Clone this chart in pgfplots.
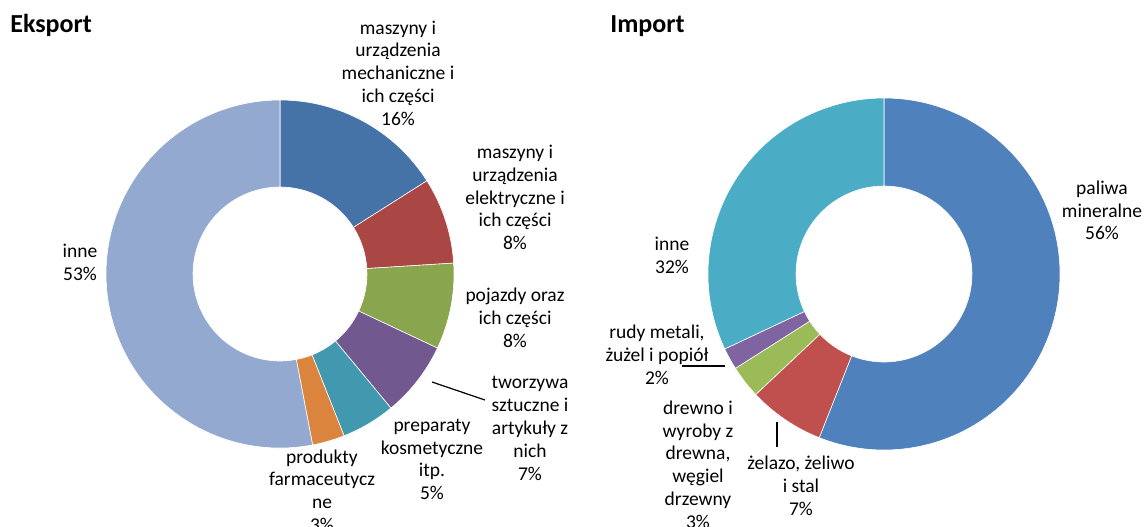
\documentclass[border=0pt]{standalone}
\usepackage{pgfplots}
\usepackage{pgfplotstable}
\pgfplotsset{compat=1.18}
\usepackage{fontspec}
\setmainfont{Carlito}

\definecolor{ekA}{HTML}{4572A7}
\definecolor{ekB}{HTML}{AA4643}
\definecolor{ekC}{HTML}{89A54E}
\definecolor{ekD}{HTML}{71588F}
\definecolor{ekE}{HTML}{4198AF}
\definecolor{ekF}{HTML}{DB843D}
\definecolor{ekG}{HTML}{93A9CF}
\definecolor{imA}{HTML}{4F81BD}
\definecolor{imB}{HTML}{C0504D}
\definecolor{imC}{HTML}{9BBB59}
\definecolor{imD}{HTML}{8064A2}
\definecolor{imE}{HTML}{4BACC6}

% shares in %, clockwise from 12 o'clock
\pgfplotstableread{
val col
16 ekA
8  ekB
8  ekC
7  ekD
5  ekE
3  ekF
53 ekG
}\eksport
\pgfplotstableread{
val col
56 imA
7  imB
3  imC
2  imD
32 imE
}\import

% #1 table, #2 cx, #3 cy (axis units), #4 outer radius, #5 inner radius
\newcommand\donut[5]{%
  \pgfplotstablegetrowsof{#1}%
  \pgfmathtruncatemacro\nrows{\pgfplotsretval-1}%
  \def\cum{0}%
  \pgfplotsforeachungrouped \i in {0,...,\nrows}{%
    \pgfplotstablegetelem{\i}{val}\of#1\let\segval\pgfplotsretval
    \pgfplotstablegetelem{\i}{col}\of#1\let\segcol\pgfplotsretval
    \pgfmathsetmacro\angA{90-3.6*\cum}%
    \pgfmathsetmacro\angB{90-3.6*(\cum+\segval)}%
    \pgfmathsetmacro\angC{\angB+180}%
    \pgfmathsetmacro\cum{\cum+\segval}%
    \edef\temp{\noexpand\fill[\segcol, draw=white, line width=0.3pt]
      (axis cs:#2,#3) ++(\angA:#4) arc[start angle=\angA, end angle=\angB, radius=#4]
      -- ++(\angC:#4-#5) arc[start angle=\angB, end angle=\angA, radius=#5] -- cycle;}%
    \temp
  }%
}

\tikzset{lbl/.style={font=\fontsize{9.75}{11.4}\selectfont, align=center, inner sep=0pt},
         ttl/.style={font=\fontsize{13}{15}\selectfont\bfseries, anchor=base west, inner sep=0pt}}

\begin{document}
\begin{tikzpicture}
\begin{axis}[
  name=ax,
  width=572.5pt, height=263pt, scale only axis,
  xmin=0, xmax=1145, ymin=0, ymax=526, y dir=reverse,
  hide axis, clip=false,
]
\donut{\eksport}{280}{274}{87pt}{43.5pt}
\donut{\import}{884}{274}{88pt}{44pt}

\node[ttl] at (axis cs:10,32) {Eksport};
\node[ttl] at (axis cs:610,32) {Import};

% Eksport labels
\node[lbl] at (axis cs:398,73) {maszyny i\\urządzenia\\mechaniczne i\\ich części\\16\%};
\node[lbl] at (axis cs:515,197.5) {maszyny i\\urządzenia\\elektryczne i\\ich części\\8\%};
\node[lbl] at (axis cs:515,318) {pojazdy oraz\\ich części\\8\%};
\node[lbl] at (axis cs:530,428.5) {tworzywa\\sztuczne i\\artykuły z\\nich\\7\%};
\node[lbl] at (axis cs:432,459.5) {preparaty\\kosmetyczne\\itp.\\5\%};
\node[lbl] at (axis cs:322,490.5) {produkty\\farmaceutycz\\ne\\3\%};
\node[lbl] at (axis cs:80,262) {inne\\53\%};
\draw[black, line width=0.6pt] (axis cs:432,382) -- (axis cs:485,400);

% Import labels
\node[lbl] at (axis cs:1102,210.5) {paliwa\\mineralne\\56\%};
\node[lbl] at (axis cs:672,255.5) {inne\\32\%};
\node[lbl] at (axis cs:657,354.5) {rudy metali,\\żużel i popiół\\2\%};
\node[lbl] at (axis cs:698,464.5) {drewno i\\wyroby z\\drewna,\\węgiel\\drzewny\\3\%};
\node[lbl] at (axis cs:801,485.5) {żelazo, żeliwo\\i stal\\7\%};
\draw[black, line width=0.6pt] (axis cs:682,366) -- (axis cs:725,366);
\draw[black, line width=0.6pt] (axis cs:777,422) -- (axis cs:777,447);
\end{axis}
\pgfresetboundingbox
\path[use as bounding box] (ax.south west) rectangle (ax.north east);
\end{tikzpicture}
\end{document}
